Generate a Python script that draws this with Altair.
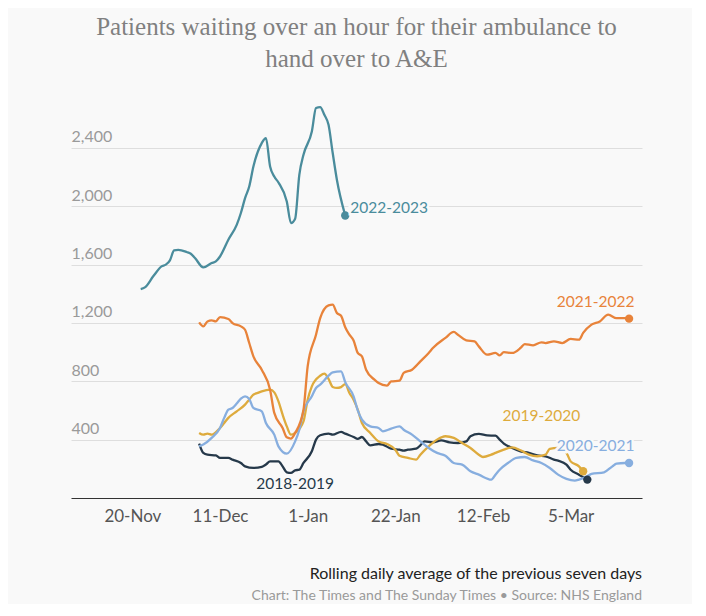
import altair as alt
import pandas as pd

# ---- data (day offset from 20-Nov, value) ----
seasons = ["2018-2019", "2019-2020", "2020-2021", "2021-2022", "2022-2023"]
colors = ["#26394a", "#deab3d", "#87aedf", "#e8833a", "#4a8c9c"]

d1819 = [16,17,18,20,21,23,24,26,27,29,31,32,33,35,36,37,38,39,40,41,43,44,45,47,48,50,51,53,54,55,56,57,59,60,62,64,65,66,68,69,70,72,74,76,78,80,81,83,85,87,88,89,91,93,95,97,99,101,102,104,105,107,109]
v1819 = [373,309,297,292,275,275,263,240,217,206,213,229,251,251,217,176,172,190,194,240,320,400,430,441,434,453,441,418,405,418,388,361,370,366,338,331,325,331,338,361,388,381,395,381,377,388,423,439,429,427,400,373,343,320,309,292,286,263,256,229,194,160,126]

d1920 = [16,17,18,19,21,22,23,25,27,28,29,30,31,33,34,35,36,37,38,39,41,42,43,45,46,47,48,49,50,51,52,53,54,55,57,59,61,63,64,66,68,69,71,73,75,77,79,81,83,84,86,87,89,91,93,95,97,99,100,102,104,105,107,108]
v1920 = [446,434,441,434,480,514,549,594,640,674,708,720,731,742,724,662,571,491,434,446,525,674,765,838,852,816,761,754,760,780,720,674,605,514,446,388,370,331,290,275,263,297,354,400,423,412,377,343,297,281,297,309,331,347,327,297,286,297,336,343,309,251,217,183]

d2021 = [16,17,19,21,22,23,24,25,26,27,28,29,31,32,34,35,37,39,40,41,43,44,45,47,48,50,51,53,54,55,57,59,60,62,64,65,67,69,71,73,75,77,79,81,83,86,87,88,90,92,94,96,98,100,102,104,106,107,109,110,113,115,116,118,119]
v2021 = [354,366,412,480,549,605,617,647,681,697,679,617,594,514,434,354,304,388,468,594,697,754,777,838,861,868,794,697,600,537,491,480,457,475,491,468,434,388,343,309,290,240,229,183,160,126,160,194,240,275,281,258,240,206,160,131,119,126,149,165,176,217,236,240,240]

d2122 = [16,17,18,19,20,21,23,24,26,27,28,29,31,33,34,36,37,38,39,41,42,44,45,47,48,49,50,51,52,53,54,55,56,58,59,61,62,64,65,67,69,71,72,75,77,78,80,82,83,85,87,88,89,91,93,94,96,98,99,101,103,105,107,108,110,112,114,116,118,119]
v2122 = [1203,1176,1210,1217,1210,1240,1227,1199,1176,1153,1062,971,879,742,583,480,416,407,446,605,902,1119,1233,1320,1325,1268,1249,1170,1119,1080,994,971,879,811,788,770,799,804,857,879,936,994,1028,1097,1138,1119,1080,1073,1039,982,994,977,1000,994,1028,1055,1046,1067,1062,1073,1062,1090,1085,1131,1188,1210,1256,1233,1233,1229]

d2223 = [2,3,5,7,8,9,10,11,13,14,15,17,19,20,21,23,25,26,27,28,29,31,32,33,34,35,37,38,39,40,41,43,44,45,46,47,48,49,51]
v2223 = [1432,1443,1519,1587,1599,1628,1697,1701,1686,1674,1645,1580,1610,1621,1655,1770,1872,1953,2055,2135,2272,2432,2466,2272,2203,2162,2032,1884,1914,2215,2352,2512,2672,2679,2626,2557,2364,2181,1936]

tick_days = [0, 21, 42, 63, 84, 105]
tick_labels = ["20-Nov", "11-Dec", "1-Jan", "22-Jan", "12-Feb", "5-Mar"]
y_ticks = [400, 800, 1200, 1600, 2000, 2400]

label_days = [39, 98, 111, 111, 61.5]
label_vals = [97, 560, 354, 1345, 1989]

title_lines = ["Patients waiting over an hour for their ambulance to", "hand over to A&E"]
note_text = "Rolling daily average of the previous seven days"
source_text = "Chart: The Times and The Sunday Times \u2022 Source: NHS England"

# ---- build tables ----
series = [(seasons[0], d1819, v1819), (seasons[1], d1920, v1920), (seasons[2], d2021, v2021),
          (seasons[3], d2122, v2122), (seasons[4], d2223, v2223)]
rows = []
for name, ds, vs in series:
    for d, v in zip(ds, vs):
        rows.append({"season": name, "day": d, "value": v})
df = pd.DataFrame(rows)
ends = pd.DataFrame([{"season": n, "day": ds[-1], "value": vs[-1]} for n, ds, vs in series])
labels = pd.DataFrame({"season": seasons, "day": label_days, "value": label_vals})

BG = "#f9f9f9"
W, H = 571, 394

label_expr = " : ".join([f"datum.value == {d} ? '{t}'" for d, t in zip(tick_days, tick_labels)]) + " : ''"

xenc = alt.X("day:Q", scale=alt.Scale(domain=[-14.7, 122.1], nice=False, zero=False),
             axis=alt.Axis(values=tick_days, labelExpr=label_expr, title=None, grid=False,
                           ticks=False, domainColor="#333333", domainWidth=1.2,
                           labelFont="Lato", labelFontSize=17, labelColor="#555555",
                           labelPadding=10, labelFlush=False))
yenc = alt.Y("value:Q", scale=alt.Scale(domain=[0, 2700], nice=False),
             axis=alt.Axis(values=y_ticks, format=",d", title=None, domain=False, ticks=False,
                           grid=True, gridColor="#dedede", gridWidth=1,
                           labelAlign="left", labelBaseline="alphabetic", labelPadding=0,
                           labelOffset=-6, labelFont="Lato", labelFontSize=16, labelColor="#9a9a9a"))
cenc = alt.Color("season:N", scale=alt.Scale(domain=seasons, range=colors), legend=None)

lines = alt.Chart(df).mark_line(strokeWidth=2.3, interpolate="monotone").encode(
    x=xenc, y=yenc, color=cenc, detail="season:N")
dots = alt.Chart(ends).mark_circle(size=70, opacity=1).encode(x="day:Q", y="value:Q", color=cenc)
halo = alt.Chart(labels).mark_text(font="Lato", fontSize=15.5, stroke=BG, strokeWidth=5,
                                   align="center", baseline="middle").encode(
    x="day:Q", y="value:Q", text="season:N")
texts = alt.Chart(labels).mark_text(font="Lato", fontSize=15.5, align="center", baseline="middle").encode(
    x="day:Q", y="value:Q", text="season:N", color=cenc)
note = alt.Chart(pd.DataFrame({"t": [note_text]})).mark_text(
    font="Lato", fontSize=16, color="#222222", align="right", baseline="middle").encode(
    text="t:N", x=alt.value(W), y=alt.value(470))
source = alt.Chart(pd.DataFrame({"t": [source_text]})).mark_text(
    font="Lato", fontSize=14, color="#9a9a9a", align="right", baseline="middle").encode(
    text="t:N", x=alt.value(W), y=alt.value(492))

chart = alt.layer(lines, dots, halo, texts, note, source).properties(
    width=W, height=H,
    title=alt.TitleParams(text=title_lines, anchor="middle", font="Liberation Serif", fontSize=25,
                          fontWeight="normal", color="#808080", lineHeight=32, offset=30),
    autosize=alt.AutoSizeParams(type="none"),
    padding={"left": 63, "top": 96, "right": 50, "bottom": 106},
    background=BG,
).configure_view(stroke=None)

chart.save("out.html", embed_options={"renderer": "svg", "actions": False})
